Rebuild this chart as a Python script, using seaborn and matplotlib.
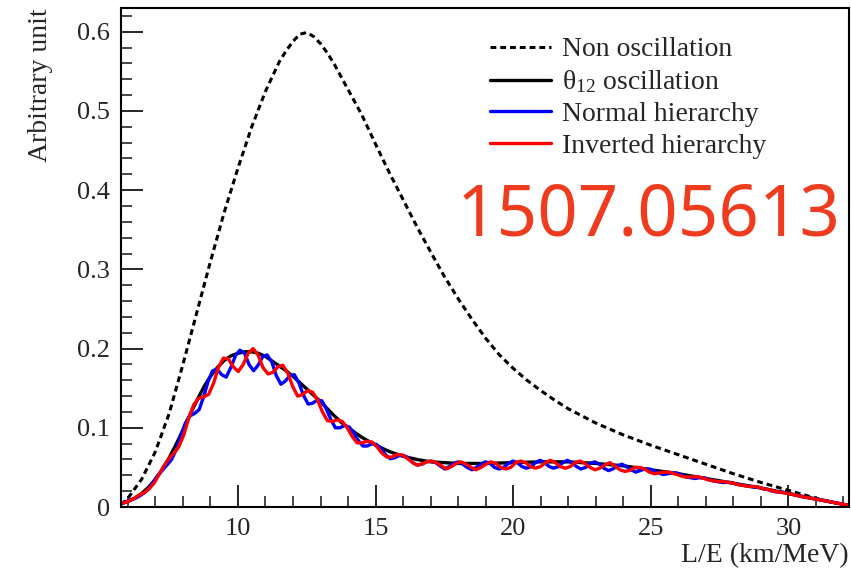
import matplotlib
matplotlib.use("Agg")
import matplotlib.pyplot as plt
from matplotlib.ticker import MultipleLocator, FuncFormatter
import seaborn as sns

# L/E grid and spectra (arbitrary units)
le_nonosc = [5.75, 6.0, 6.5, 7.0, 7.5, 8.0, 8.5, 9.0, 9.5, 10.0, 10.5, 11.0, 11.5,
             11.75, 12.0, 12.25, 12.5, 12.75, 13.0, 13.25, 13.5, 14.0, 14.5, 15.0,
             15.5, 16.0, 16.5, 17.0, 17.5, 18.0, 18.5, 19.0, 19.5, 20.0, 20.5, 21.0,
             21.5, 22.0, 23.0, 24.0, 25.0, 26.0, 27.0, 28.0, 29.0, 30.0, 31.0, 32.2]
nonosc = [0.003, 0.011, 0.035, 0.070, 0.118, 0.180, 0.245, 0.310, 0.372, 0.428, 0.480,
          0.525, 0.562, 0.576, 0.588, 0.597, 0.599, 0.594, 0.585, 0.573, 0.559, 0.527,
          0.495, 0.458, 0.422, 0.388, 0.354, 0.322, 0.291, 0.263, 0.237, 0.213, 0.192,
          0.175, 0.160, 0.147, 0.135, 0.124, 0.106, 0.091, 0.078, 0.066, 0.054, 0.042,
          0.031, 0.021, 0.011, 0.001]

le_theta12 = [5.75, 6.0, 6.25, 6.5, 6.75, 7.0, 7.25, 7.5, 7.75, 8.0, 8.25, 8.5, 8.75,
              9.0, 9.25, 9.5, 9.75, 10.0, 10.25, 10.5, 10.75, 11.0, 11.25, 11.5, 11.75,
              12.0, 12.25, 12.5, 12.75, 13.0, 13.25, 13.5, 13.75, 14.0, 14.25, 14.5,
              14.75, 15.0, 15.25, 15.5, 15.75, 16.0, 16.5, 17.0, 17.5, 18.0, 19.0, 20.0,
              21.0, 22.0, 23.0, 24.0, 25.0, 26.0, 27.0, 28.0, 29.0, 30.0, 31.0, 32.2]
theta12 = [0.004, 0.007, 0.011, 0.017, 0.025, 0.035, 0.047, 0.062, 0.079, 0.097, 0.116,
           0.134, 0.151, 0.165, 0.176, 0.185, 0.191, 0.194, 0.196, 0.196, 0.194, 0.190,
           0.184, 0.178, 0.172, 0.165, 0.157, 0.149, 0.141, 0.133, 0.124, 0.115, 0.107,
           0.100, 0.094, 0.088, 0.083, 0.078, 0.074, 0.070, 0.067, 0.064, 0.060, 0.057,
           0.056, 0.055, 0.055, 0.056, 0.057, 0.057, 0.055, 0.052, 0.047, 0.042, 0.036,
           0.030, 0.024, 0.017, 0.010, 0.002]

le_nh = [5.75, 6.10, 6.27, 6.43, 6.60, 6.76, 6.93, 7.09, 7.26, 7.42, 7.59, 7.76, 7.92,
         8.09, 8.25, 8.42, 8.59, 8.75, 8.92, 9.08, 9.24, 9.41, 9.57, 9.74, 9.91, 10.07,
         10.24, 10.40, 10.57, 10.73, 10.90, 11.06, 11.23, 11.39, 11.56, 11.72, 11.89,
         12.05, 12.22, 12.38, 12.55, 12.71, 12.88, 13.05, 13.21, 13.38, 13.54, 13.71,
         13.87, 14.04, 14.20, 14.37, 14.54, 14.70, 14.87, 15.03, 15.20, 15.36, 15.53,
         15.69, 15.86, 16.02, 16.19, 16.35, 16.52, 16.68, 16.85, 17.01, 17.18, 17.34,
         17.51, 17.67, 17.84, 18.00, 18.17, 18.33, 18.50, 18.66, 18.83, 18.99, 19.16,
         19.32, 19.49, 19.65, 19.82, 19.99, 20.15, 20.32, 20.48, 20.65, 20.81, 20.98,
         21.14, 21.31, 21.47, 21.64, 21.80, 21.97, 22.13, 22.30, 22.46, 22.63, 22.79,
         22.96, 23.13, 23.29, 23.46, 23.62, 23.79, 23.95, 24.12, 24.28, 24.45, 24.62,
         24.78, 24.95, 25.11, 25.28, 25.44, 25.61, 25.77, 25.94, 26.10, 26.27, 26.43,
         26.60, 26.77, 26.93, 27.10, 27.26, 27.43, 27.59, 27.76, 27.92, 28.09, 28.25,
         28.42, 28.58, 28.75, 28.91, 29.08, 29.25, 29.41, 29.58, 29.74, 29.90, 30.5,
         31.0, 31.6, 32.2]
nh = [0.004, 0.009, 0.011, 0.014, 0.018, 0.023, 0.032, 0.040, 0.047, 0.053, 0.060,
      0.073, 0.090, 0.106, 0.115, 0.118, 0.123, 0.139, 0.159, 0.172, 0.174, 0.167,
      0.164, 0.176, 0.191, 0.198, 0.194, 0.180, 0.172, 0.179, 0.190, 0.192, 0.183,
      0.166, 0.155, 0.159, 0.166, 0.167, 0.156, 0.141, 0.130, 0.131, 0.135, 0.134,
      0.124, 0.110, 0.100, 0.100, 0.103, 0.101, 0.094, 0.084, 0.077, 0.077, 0.080,
      0.079, 0.074, 0.066, 0.061, 0.062, 0.065, 0.065, 0.062, 0.056, 0.053, 0.054,
      0.057, 0.058, 0.056, 0.052, 0.048, 0.051, 0.055, 0.057, 0.054, 0.050, 0.047,
      0.050, 0.054, 0.057, 0.055, 0.050, 0.048, 0.050, 0.055, 0.058, 0.056, 0.051,
      0.049, 0.051, 0.056, 0.059, 0.056, 0.051, 0.049, 0.051, 0.056, 0.059, 0.056,
      0.051, 0.048, 0.050, 0.055, 0.057, 0.054, 0.049, 0.046, 0.048, 0.052, 0.054,
      0.051, 0.047, 0.044, 0.046, 0.048, 0.048, 0.046, 0.043, 0.041, 0.042, 0.043,
      0.043, 0.041, 0.038, 0.037, 0.036, 0.037, 0.037, 0.035, 0.033, 0.032, 0.031,
      0.031, 0.031, 0.029, 0.028, 0.027, 0.026, 0.025, 0.025, 0.023, 0.022, 0.020,
      0.019, 0.019, 0.018, 0.013, 0.010, 0.006, 0.002]

le_ih = [5.75, 6.0, 6.23, 6.41, 6.59, 6.77, 6.95, 7.13, 7.31, 7.49, 7.67, 7.85, 8.03,
         8.21, 8.39, 8.57, 8.75, 8.93, 9.11, 9.29, 9.47, 9.65, 9.83, 10.01, 10.19, 10.37,
         10.55, 10.73, 10.91, 11.09, 11.27, 11.45, 11.63, 11.81, 11.99, 12.17, 12.35,
         12.53, 12.71, 12.89, 13.07, 13.25, 13.43, 13.61, 13.79, 13.97, 14.15, 14.33,
         14.51, 14.69, 14.87, 15.05, 15.23, 15.41, 15.59, 15.77, 15.95, 16.13, 16.31,
         16.49, 16.67, 16.85, 17.03, 17.21, 17.39, 17.57, 17.75, 17.93, 18.11, 18.29,
         18.47, 18.65, 18.83, 19.01, 19.19, 19.37, 19.55, 19.73, 19.91, 20.09, 20.27,
         20.45, 20.63, 20.81, 20.99, 21.17, 21.35, 21.53, 21.71, 21.89, 22.07, 22.25,
         22.43, 22.61, 22.79, 22.97, 23.15, 23.33, 23.51, 23.69, 23.87, 24.05, 24.23,
         24.41, 24.59, 24.77, 24.95, 25.13, 25.31, 25.49, 25.67, 25.85, 26.03, 26.21,
         26.39, 26.57, 26.75, 26.93, 27.11, 27.29, 27.47, 27.65, 27.83, 28.01, 28.19,
         28.37, 28.55, 28.73, 28.91, 29.09, 29.27, 29.45, 29.63, 29.81, 29.99, 30.5,
         31.0, 31.6, 32.2]
ih = [0.004, 0.007, 0.011, 0.015, 0.018, 0.023, 0.030, 0.041, 0.052, 0.061, 0.068,
      0.076, 0.091, 0.112, 0.129, 0.137, 0.139, 0.142, 0.156, 0.176, 0.188, 0.187,
      0.177, 0.171, 0.180, 0.194, 0.200, 0.192, 0.176, 0.168, 0.170, 0.177, 0.179,
      0.169, 0.152, 0.140, 0.142, 0.147, 0.145, 0.135, 0.120, 0.109, 0.108, 0.110,
      0.108, 0.100, 0.089, 0.081, 0.081, 0.083, 0.082, 0.076, 0.068, 0.063, 0.063,
      0.066, 0.066, 0.062, 0.057, 0.053, 0.054, 0.057, 0.058, 0.056, 0.052, 0.048,
      0.051, 0.055, 0.057, 0.054, 0.050, 0.047, 0.050, 0.054, 0.057, 0.055, 0.050,
      0.048, 0.050, 0.056, 0.058, 0.056, 0.051, 0.049, 0.051, 0.056, 0.059, 0.056,
      0.051, 0.049, 0.051, 0.056, 0.058, 0.055, 0.050, 0.047, 0.049, 0.053, 0.056,
      0.052, 0.047, 0.045, 0.046, 0.050, 0.050, 0.048, 0.044, 0.042, 0.043, 0.044,
      0.044, 0.042, 0.040, 0.038, 0.038, 0.038, 0.038, 0.036, 0.034, 0.033, 0.032,
      0.032, 0.031, 0.030, 0.028, 0.027, 0.026, 0.026, 0.025, 0.023, 0.022, 0.020,
      0.019, 0.018, 0.017, 0.013, 0.010, 0.006, 0.002]

series_labels = ["Non oscillation", "θ$_{\\mathrm{12}}$ oscillation",
                 "Normal hierarchy", "Inverted hierarchy"]
y_ticks = [0, 0.1, 0.2, 0.3, 0.4, 0.5, 0.6]
x_ticks = [10, 15, 20, 25, 30]

sns.set_style("ticks")
serif = ["Liberation Serif", "DejaVu Serif"]
plt.rcParams["font.family"] = serif
plt.rcParams["mathtext.fontset"] = "custom"
plt.rcParams["mathtext.rm"] = "Liberation Serif"
plt.rcParams["mathtext.it"] = "Liberation Serif:italic"

fig = plt.figure(figsize=(8.51, 5.72), dpi=100)
ax = fig.add_axes([121 / 851, 1 - 507 / 572, 728 / 851, 499 / 572])

lw = 2.4
sns.lineplot(x=le_nonosc, y=nonosc, ax=ax, color="black", linewidth=2.2,
             label=series_labels[0], estimator=None, sort=False)
sns.lineplot(x=le_theta12, y=theta12, ax=ax, color="black", linewidth=lw,
             label=series_labels[1], estimator=None, sort=False)
sns.lineplot(x=le_nh, y=nh, ax=ax, color="#0000ff", linewidth=lw,
             label=series_labels[2], estimator=None, sort=False)
sns.lineplot(x=le_ih, y=ih, ax=ax, color="#ff0000", linewidth=lw,
             label=series_labels[3], estimator=None, sort=False)
ax.lines[0].set_linestyle((0, (1.9, 1.3)))
for ln in ax.lines:
    ln.set_solid_joinstyle("round")

ax.set_xlim(5.75, 32.2)
ax.set_ylim(0, 0.63)
ax.set_xticks(x_ticks)
ax.set_yticks(y_ticks)
ax.xaxis.set_minor_locator(MultipleLocator(1))
ax.yaxis.set_minor_locator(MultipleLocator(0.02))
ax.yaxis.set_major_formatter(FuncFormatter(lambda v, p: f"{v:g}"))
ax.tick_params(which="major", direction="in", length=16, width=1.4,
               labelsize=19, top=False, right=False)
ax.tick_params(axis="y", which="major", pad=8)
ax.tick_params(axis="x", which="major", pad=8)
ax.tick_params(which="minor", direction="in", length=8, width=1.2,
               top=False, right=False)
for sp in ax.spines.values():
    sp.set_linewidth(1.5)
    sp.set_color("black")

ax.set_xlabel("L/E (km/MeV)", fontsize=20, loc="right")
ax.xaxis.set_label_coords(1.0, -0.072)
ax.set_ylabel("Arbitrary unit", fontsize=20, loc="top")
ax.yaxis.set_label_coords(-0.093, 1.0)

leg = ax.legend(loc="upper left", bbox_to_anchor=(0.507, 0.942), frameon=False,
                fontsize=20, handlelength=2.2, handletextpad=0.4,
                labelspacing=0.22, borderpad=0, borderaxespad=0)

fig.text(649 / 851, 1 - 217 / 572, "1507.05613", color="#f03c1e", fontsize=51,
         family=["Noto Sans", "DejaVu Sans"], ha="center", va="center")

fig.savefig("out.png", dpi=100)
